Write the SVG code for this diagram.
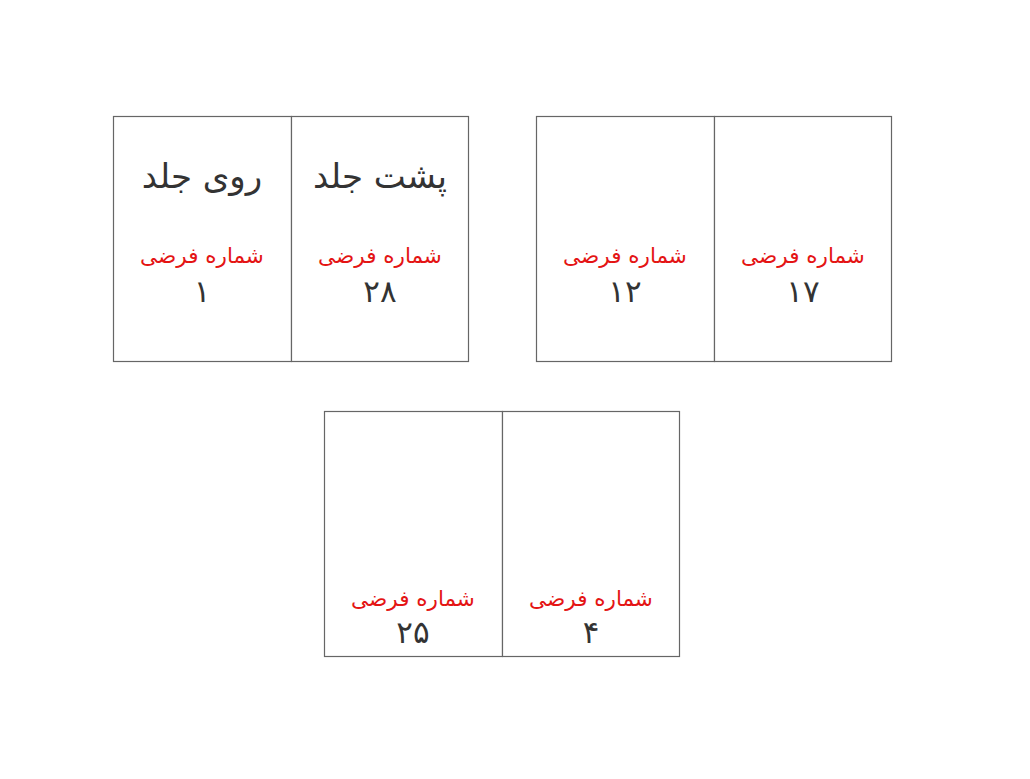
<svg xmlns="http://www.w3.org/2000/svg" width="1030" height="779" viewBox="0 0 1030 779">
<style>
.page{fill:#fff;stroke:#666;stroke-width:1.2}
.t{font-family:"DejaVu Sans","Noto Sans",sans-serif;text-anchor:middle;direction:rtl}
.title{font-size:34px;fill:#333}
.red{font-size:21.5px;fill:#e41414}
.num{font-size:31px;fill:#333}
</style>
<rect width="1030" height="779" fill="#fff"/>
<g id="sheet1">
<rect class="page" x="113.5" y="116.5" width="178" height="245"/>
<rect class="page" x="291.5" y="116.5" width="177" height="245"/>
<text class="t title" x="202" y="188">روی جلد</text>
<text class="t title" x="380" y="188">پشت جلد</text>
<text class="t red" x="202" y="263">شماره فرضی</text>
<text class="t red" x="380" y="263">شماره فرضی</text>
<text class="t num" x="202" y="302">۱</text>
<text class="t num" x="380" y="302">۲۸</text>
</g>
<g id="sheet2">
<rect class="page" x="536.5" y="116.5" width="178" height="245"/>
<rect class="page" x="714.5" y="116.5" width="177" height="245"/>
<text class="t red" x="625" y="263">شماره فرضی</text>
<text class="t red" x="803" y="263">شماره فرضی</text>
<text class="t num" x="625" y="302">۱۲</text>
<text class="t num" x="803" y="302">۱۷</text>
</g>
<g id="sheet3">
<rect class="page" x="324.5" y="411.5" width="178" height="245"/>
<rect class="page" x="502.5" y="411.5" width="177" height="245"/>
<text class="t red" x="413" y="606">شماره فرضی</text>
<text class="t red" x="591" y="606">شماره فرضی</text>
<text class="t num" x="413" y="643">۲۵</text>
<text class="t num" x="591" y="643">۴</text>
</g>
<g id="connectors"></g>
</svg>
